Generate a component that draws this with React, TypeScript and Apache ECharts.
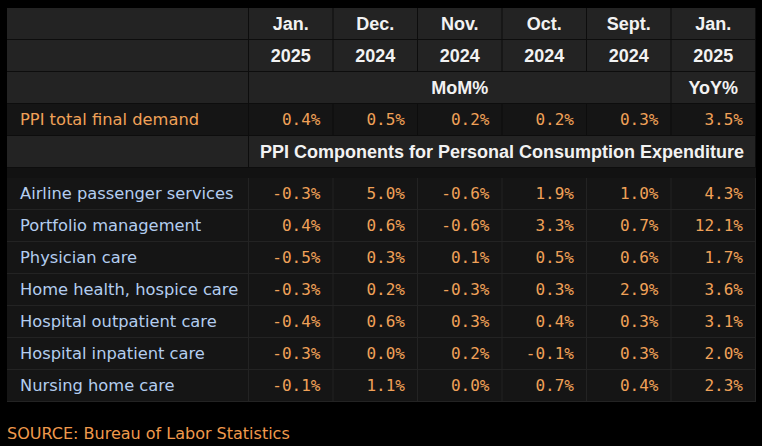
import React, { useEffect, useRef } from "react";
import * as echarts from "echarts";

// ---- data ----
const months = ["Jan.", "Dec.", "Nov.", "Oct.", "Sept.", "Jan."];
const years = ["2025", "2024", "2024", "2024", "2024", "2025"];
const measureLabels = ["MoM%", "YoY%"];
const headlineLabel = "PPI total final demand";
const headlineValues = [0.4, 0.5, 0.2, 0.2, 0.3, 3.5];
const sectionTitle = "PPI Components for Personal Consumption Expenditure";
const components = [
  "Airline passenger services",
  "Portfolio management",
  "Physician care",
  "Home health, hospice care",
  "Hospital outpatient care",
  "Hospital inpatient care",
  "Nursing home care",
];
const airlineValues = [-0.3, 5.0, -0.6, 1.9, 1.0, 4.3];
const portfolioValues = [0.4, 0.6, -0.6, 3.3, 0.7, 12.1];
const physicianValues = [-0.5, 0.3, 0.1, 0.5, 0.6, 1.7];
const homeHealthValues = [-0.3, 0.2, -0.3, 0.3, 2.9, 3.6];
const outpatientValues = [-0.4, 0.6, 0.3, 0.4, 0.3, 3.1];
const inpatientValues = [-0.3, 0.0, 0.2, -0.1, 0.3, 2.0];
const nursingValues = [-0.1, 1.1, 0.0, 0.7, 0.4, 2.3];
const componentValues = [
  airlineValues,
  portfolioValues,
  physicianValues,
  homeHealthValues,
  outpatientValues,
  inpatientValues,
  nursingValues,
];
const sourceNote = "SOURCE: Bureau of Labor Statistics";

// ---- styling ----
const LABEL_SPAN = 242 / 84.5; // label column width in value-column units
const GRAY = "#232323";
const DARK = "#151515";
const WHITE = "#f2f2f2";
const ORANGE = "#f0a158";
const BLUE = "#b3cdef";
const HEAD_FONT = "bold 18px 'Liberation Sans', Arial, sans-serif";
const LABEL_FONT = "16.3px 'DejaVu Sans', sans-serif";
const VALUE_FONT = "16px 'DejaVu Sans Mono', monospace";

type Cell = {
  x0: number;
  x1: number;
  row: number;
  text: string;
  align: "left" | "center" | "right";
  fill: string;
  color: string;
  font: string;
};

const fmt = (v: number) => v.toFixed(1) + "%";

function buildHeaderCells(): Cell[] {
  const cells: Cell[] = [];
  const lab = (row: number, text: string, fill: string, color = WHITE, font = HEAD_FONT) =>
    cells.push({ x0: -LABEL_SPAN, x1: 0, row, text, align: "left", fill, color, font });
  lab(0, "", GRAY);
  months.forEach((m, i) =>
    cells.push({ x0: i, x1: i + 1, row: 0, text: m, align: "center", fill: GRAY, color: WHITE, font: HEAD_FONT })
  );
  lab(1, "", GRAY);
  years.forEach((y, i) =>
    cells.push({ x0: i, x1: i + 1, row: 1, text: y, align: "center", fill: GRAY, color: WHITE, font: HEAD_FONT })
  );
  lab(2, "", GRAY);
  cells.push({ x0: 0, x1: 5, row: 2, text: measureLabels[0], align: "center", fill: GRAY, color: WHITE, font: HEAD_FONT });
  cells.push({ x0: 5, x1: 6, row: 2, text: measureLabels[1], align: "center", fill: GRAY, color: WHITE, font: HEAD_FONT });
  lab(3, headlineLabel, DARK, ORANGE, LABEL_FONT);
  headlineValues.forEach((v, i) =>
    cells.push({ x0: i, x1: i + 1, row: 3, text: fmt(v), align: "right", fill: DARK, color: ORANGE, font: VALUE_FONT })
  );
  lab(4, "", GRAY);
  cells.push({ x0: 0, x1: 6, row: 4, text: sectionTitle, align: "center", fill: GRAY, color: WHITE, font: HEAD_FONT });
  return cells;
}

function buildBodyCells(): Cell[] {
  const cells: Cell[] = [];
  components.forEach((name, r) => {
    cells.push({ x0: -LABEL_SPAN, x1: 0, row: r, text: name, align: "left", fill: DARK, color: BLUE, font: LABEL_FONT });
    componentValues[r].forEach((v, i) =>
      cells.push({ x0: i, x1: i + 1, row: r, text: fmt(v), align: "right", fill: DARK, color: ORANGE, font: VALUE_FONT })
    );
  });
  return cells;
}

function makeRender(cells: Cell[]) {
  return (params: any, api: any) => {
    const c = cells[params.dataIndex];
    const a = api.coord([c.x0, c.row]);
    const b = api.coord([c.x1, c.row]);
    const h = api.size([0, 1])[1];
    const x = a[0];
    const y = a[1] - h / 2;
    const w = b[0] - a[0] - 1;
    const hh = h - 1;
    let tx = x + w / 2;
    if (c.align === "left") tx = x + 13;
    if (c.align === "right") tx = x + w - 12;
    return {
      type: "group",
      children: [
        { type: "rect", shape: { x, y, width: w, height: hh }, style: { fill: c.fill } },
        {
          type: "text",
          style: {
            text: c.text,
            x: tx,
            y: y + hh / 2,
            align: c.align,
            verticalAlign: "middle",
            fill: c.color,
            font: c.font,
          },
        },
      ],
    };
  };
}

export default function App() {
  const ref = useRef<HTMLDivElement>(null);
  useEffect(() => {
    if (!ref.current) return;
    const chart = echarts.init(ref.current, undefined, { renderer: "svg" });
    const headerCells = buildHeaderCells();
    const bodyCells = buildBodyCells();
    const headerRows = ["months", "years", "measure", "headline", "section"];
    chart.setOption({
      animation: false,
      backgroundColor: "#000000",
      title: {
        text: sourceNote,
        left: 7,
        top: 425,
        padding: 0,
        textStyle: { color: "#f09a4c", fontFamily: "'DejaVu Sans', sans-serif", fontWeight: "normal", fontSize: 16 },
      },
      graphic: [
        { type: "rect", shape: { x: 7, y: 168, width: 749, height: 10 }, style: { fill: "#121212" }, z: 0 },
      ],
      grid: [
        { left: 7, right: 6, top: 8, height: 160, show: true, backgroundColor: "#0d0d0d", borderWidth: 0 },
        { left: 7, right: 6, top: 178, height: 224, show: true, backgroundColor: "#232323", borderWidth: 0 },
      ],
      xAxis: [
        { type: "value", gridIndex: 0, min: -LABEL_SPAN, max: 6, show: false },
        { type: "value", gridIndex: 1, min: -LABEL_SPAN, max: 6, show: false },
      ],
      yAxis: [
        { type: "category", gridIndex: 0, data: headerRows, inverse: true, show: false },
        { type: "category", gridIndex: 1, data: components, inverse: true, show: false },
      ],
      series: [
        {
          type: "custom",
          xAxisIndex: 0,
          yAxisIndex: 0,
          data: headerCells.map((c) => [c.x0, c.x1, c.row]),
          encode: { x: [0, 1], y: 2 },
          renderItem: makeRender(headerCells),
          silent: true,
        },
        {
          type: "custom",
          xAxisIndex: 1,
          yAxisIndex: 1,
          data: bodyCells.map((c) => [c.x0, c.x1, c.row]),
          encode: { x: [0, 1], y: 2 },
          renderItem: makeRender(bodyCells),
          silent: true,
        },
      ],
    });
    return () => chart.dispose();
  }, []);
  return (
    <div
      ref={ref}
      style={{ position: "fixed", left: 0, top: 0, width: 762, height: 446, background: "#000" }}
    />
  );
}
